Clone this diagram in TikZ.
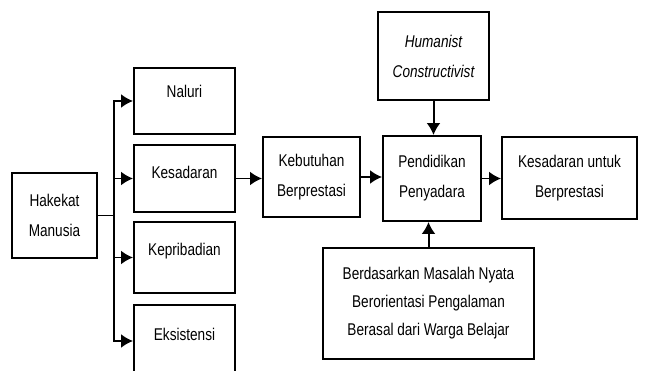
\documentclass[tikz,border=0pt]{standalone}
\usepackage{fontspec}
\setmainfont{Liberation Sans}[FakeStretch=0.8]
\usetikzlibrary{arrows.meta}
\usetikzlibrary{calc}
\tikzset{>=latex}
\tikzstyle{boxnode}=[draw=black,line width=0.7mm,align=center,inner sep=0pt,font=\fontsize{17}{30}\selectfont]
\tikzstyle{onebox}=[boxnode,minimum width=101pt,text height=12pt]
\tikzstyle{arrowline}=[draw=black,line width=0.7mm,-{Latex[length=12pt,width=14pt]}]

\begin{document}
\begin{tikzpicture}[x=1pt,y=-1pt]
  \useasboundingbox[fill=white] (0,0) rectangle (645,371);

  \node[boxnode,minimum width=85pt,minimum height=85pt] (hakekat) at (54.5,215.5) {Hakekat\\Manusia};

  \node[onebox,minimum height=66pt,text depth=18pt] (naluri)      at (184.5,101)   {Naluri};
  \node[onebox,minimum height=67pt,text depth=11pt] (kesadaran)   at (184.5,178.5) {Kesadaran};
  \node[onebox,minimum height=71pt,text depth=15pt] (kepribadian) at (184.5,257.5) {Kepribadian};
  \node[onebox,minimum height=72pt,text depth=13pt] (eksistensi)  at (184.5,341)   {Eksistensi};

  \node[boxnode,minimum width=97pt,minimum height=80pt]  (kebutuhan)  at (311.5,177)   {Kebutuhan\\Berprestasi};
  \node[boxnode,minimum width=98pt,minimum height=85pt]  (pendidikan) at (432,178.5)   {Pendidikan\\Penyadara};
  \node[boxnode,minimum width=111pt,minimum height=88pt,font=\fontsize{17}{30}\selectfont\itshape] (humanist) at (433.5,56) {Humanist\\Constructivist};
  \node[boxnode,minimum width=135pt,minimum height=82pt] (untuk)      at (569.5,178)   {Kesadaran untuk\\Berprestasi};
  \node[boxnode,minimum width=211pt,minimum height=111pt,font=\fontsize{17}{28}\selectfont] (masalah) at (428.5,303.5)
    {Berdasarkan Masalah Nyata\\Berorientasi Pengalaman\\Berasal dari Warga Belajar};

  % branches from the left box
  \coordinate (trunk) at ($(hakekat.east)+(16,0)$);
  \draw[line width=0.7mm] (hakekat.east) -- (trunk);
  \draw[arrowline] (trunk) |- (naluri.west);
  \draw[arrowline] (trunk) |- (kesadaran.west);
  \draw[arrowline] (trunk) |- (kepribadian.west);
  \draw[arrowline] (trunk) |- (eksistensi.west);

  \draw[arrowline] (kesadaran.east) -- (kesadaran.east -| kebutuhan.west);
  \draw[arrowline] (kebutuhan.east) -- (kebutuhan.east -| pendidikan.west);
  \draw[arrowline] (pendidikan.east) -- (pendidikan.east -| untuk.west);
  \draw[arrowline] (humanist.south) -- (humanist.south |- pendidikan.north);
  \draw[arrowline] (masalah.north) -- (masalah.north |- pendidikan.south);
\end{tikzpicture}
\end{document}
